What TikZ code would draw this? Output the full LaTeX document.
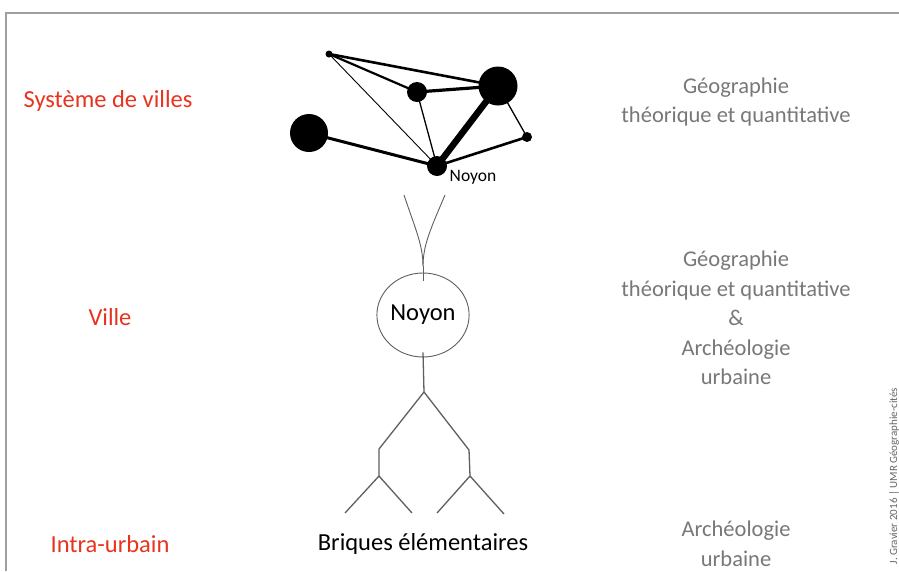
\documentclass[tikz,border=0pt]{standalone}
\usepackage{fontspec}
\setmainfont{Carlito}
\usepackage{xcolor}
\usepackage{tikz}
\usetikzlibrary{shapes.geometric, positioning, calc}
\definecolor{echred}{RGB}{232,52,30}
\definecolor{txtgrey}{RGB}{120,120,120}
\definecolor{treegrey}{RGB}{95,95,95}
\tikzset{
  scalelab/.style={text=echred, font=\fontsize{24.5}{28}\selectfont, inner sep=0pt},
  disclab/.style={text=txtgrey, font=\fontsize{22.5}{29.5}\selectfont, align=center, inner sep=0pt},
  city/.style={circle, fill=black, draw=none, inner sep=0pt},
  link/.style={draw=black, line cap=round},
  branch/.style={draw=treegrey, line width=1.3pt},
  root/.style={draw=treegrey, line width=0.9pt},
  frameline/.style={draw=gray!75, line width=1.6pt},
}
\begin{document}
\begin{tikzpicture}[x=1pt, y=-1pt]
  \useasboundingbox (0,0) rectangle (899,571);
  \fill[white] (0,0) rectangle (899,571);
  % frame
  \draw[frameline] (6,571) -- (6,13) -- (899,13);

  % scale labels
  \node[scalelab] (sysv)  at (108,101) {Système de villes};
  \node[scalelab] (ville) at (110,317) {Ville};
  \node[scalelab] (intra) at (110,544) {Intra-urbain};

  % disciplines
  \node[disclab] (geo1) at (736,102) {Géographie\\théorique et quantitative};
  \node[disclab] (geo2) at (736,318) {Géographie\\théorique et quantitative\\\&\\Archéologie\\urbaine};
  \node[disclab] (arch) at (736,544) {Archéologie\\urbaine};

  % system of cities
  \node[city, minimum size=7pt]  (ca) at (329,54)  {};
  \node[city, minimum size=20pt] (cb) at (417,92)  {};
  \node[city, minimum size=39pt] (cc) at (498,86)  {};
  \node[city, minimum size=38pt] (cd) at (309,133) {};
  \node[city, minimum size=20pt] (ce) at (437,166) {};
  \node[city, minimum size=10pt] (cf) at (527,137) {};
  \node[font=\fontsize{17.5}{20}\selectfont, inner sep=0pt] (noyonlab) at (473,177) {Noyon};

  \draw[link, line width=2.6pt] (ca.center) -- (cc.center);
  \draw[link, line width=2.2pt] (ca.center) -- (cb.center);
  \draw[link, line width=0.9pt] (ca.center) -- (ce.center);
  \draw[link, line width=3.2pt] (cb.center) -- (cc.center);
  \draw[link, line width=1.3pt] (cb.center) -- (ce.center);
  \draw[link, line width=6.5pt] (cc.center) -- (ce.center);
  \draw[link, line width=1.3pt] (cc.center) -- (cf.center);
  \draw[link, line width=2.6pt] (cf.center) -- (ce.center);
  \draw[link, line width=3pt]   (cd.center) -- (ce.center);

  % city
  \node[ellipse, draw=treegrey, line width=0.9pt, minimum width=91pt, minimum height=84pt,
        inner sep=0pt, font=\fontsize{24.5}{28}\selectfont] (noyon) at (423,315) {Noyon};
  \coordinate (inl) at (404,195);
  \coordinate (inr) at (445,195);
  \coordinate (merge) at (423,266);
  \draw[root] (inl) .. controls (415,228) and (423,245) .. (merge);
  \draw[root] (inr) .. controls (431,228) and (423,245) .. (merge);
  \draw[root] (merge) -- ($(noyon.north)+(0,8)$);

  % elementary bricks
  \coordinate (fork)  at (424,392);
  \coordinate (forkl) at (379,449);
  \coordinate (forkr) at (469,450);
  \coordinate (subl)  at (379,476);
  \coordinate (subr)  at (470,476);
  \coordinate (leafa) at (345,513);
  \coordinate (leafb) at (412,513);
  \coordinate (leafc) at (437,513);
  \coordinate (leafd) at (504,514);
  \draw[branch] ($(noyon.south)+(0,-5)$) -- (fork);
  \draw[branch] (fork) -- (forkl) -- (subl);
  \draw[branch] (fork) -- (forkr) -- (subr);
  \draw[branch] (subl) -- (leafa);
  \draw[branch] (subl) -- (leafb);
  \draw[branch] (subr) -- (leafc);
  \draw[branch] (subr) -- (leafd);
  \node[font=\fontsize{24.5}{28}\selectfont, inner sep=0pt] (bricks) at (423,544) {Briques élémentaires};

  % credit
  \node[rotate=90, text=gray!80!black, font=\fontsize{11}{13}\selectfont, inner sep=0pt] (credit) at (894,476) {J. Gravier 2016 | UMR Géographie-cités};
\end{tikzpicture}
\end{document}
